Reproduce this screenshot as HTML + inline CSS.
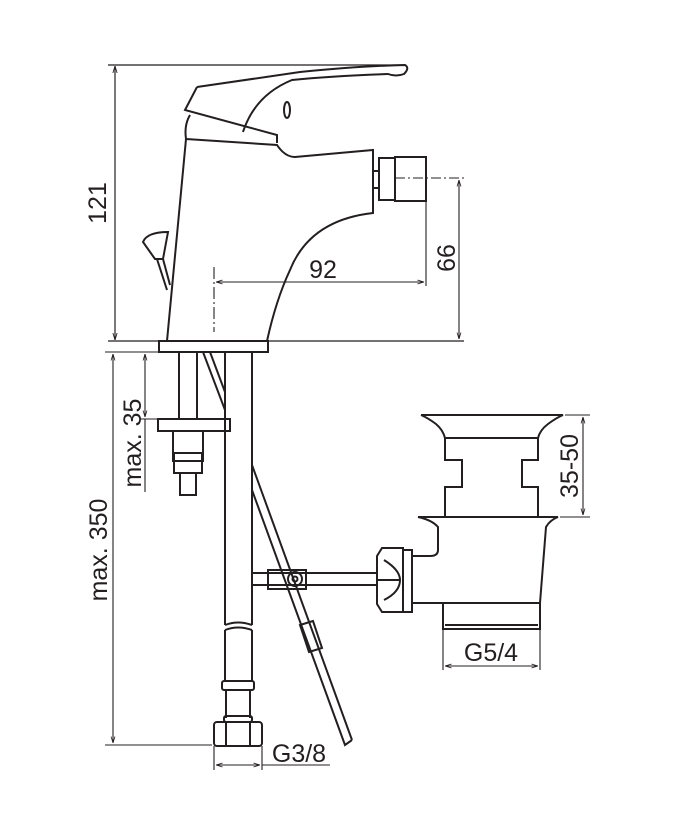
<!DOCTYPE html>
<html><head><meta charset="utf-8"><style>
html,body{margin:0;padding:0;background:#fff}
svg{display:block}
text{font-family:"Liberation Sans",sans-serif;fill:#231f20}
</style></head><body>
<svg width="678" height="832" viewBox="0 0 678 832" xmlns="http://www.w3.org/2000/svg">
<defs>
<marker id="a" viewBox="0 0 10 10" refX="10" refY="5" markerWidth="6" markerHeight="6" orient="auto-start-reverse"><path d="M0,2 L10,5 L0,8" fill="none" stroke="#231f20" stroke-width="1.2"/></marker>
</defs>
<g fill="none" stroke="#231f20" stroke-width="1.2">
<line x1="108" y1="65" x2="405" y2="65"/>
<line x1="115" y1="66" x2="115" y2="340" marker-start="url(#a)" marker-end="url(#a)"/>
<line x1="108" y1="341" x2="464" y2="341"/>
</g>
<g fill="none" stroke="#231f20" stroke-width="2">
<path d="M197,87 L300,72 Q360,66 405,65 Q410,68 404,74 Q396,77 388,74 Q330,76 292,80 Q255,95 243,132"/>
<path d="M197,87 L185,110 L277,135 L277,143"/>
<ellipse cx="287" cy="110" rx="3" ry="8"/>
<path d="M190,115 Q184,125 186,139 L167,341"/>
<path d="M186,139 L277,145 Q285,157 295,157 L373,150 L373,213 Q310,220 290,270 Q276,300 267,341"/>
<rect x="373" y="171" width="6" height="17"/>
<rect x="379" y="158" width="16" height="42"/>
<rect x="395" y="157" width="31" height="44"/>
<rect x="159" y="341" width="109" height="11"/>
<path d="M143,242 Q147,232 168,232 L163,259 L155,259 Z"/>
<path d="M157,259 L167,290 M163,259 L170,285"/>
<line x1="179" y1="352" x2="179" y2="419"/>
<line x1="197" y1="352" x2="197" y2="419"/>
<rect x="158" y="419" width="72" height="12"/>
<rect x="173" y="431" width="30" height="30"/>
<rect x="174" y="453" width="28" height="20"/>
<rect x="180" y="473" width="16" height="22"/>
<line x1="225" y1="352" x2="225" y2="625"/>
<line x1="252" y1="352" x2="252" y2="625"/>
<path d="M225,625 Q238,620 252,625 M225,630 Q238,625 252,630"/>
<line x1="225" y1="630" x2="225" y2="681"/>
<line x1="252" y1="630" x2="252" y2="681"/>
<rect x="222" y="681" width="32" height="9" rx="2"/>
<line x1="226" y1="690" x2="226" y2="718"/>
<line x1="250" y1="690" x2="250" y2="718"/>
<rect x="224" y="716" width="28" height="6" rx="2"/>
<rect x="214" y="722" width="48" height="24" rx="3"/>
<line x1="226" y1="722" x2="226" y2="746"/>
<line x1="250" y1="722" x2="250" y2="746"/>
<path d="M203,352 L225,410 M210,352 L225,392"/>
<path d="M252,465 L352,740 M252,490 L345,745 L352,740"/>
<path d="M300,625 L313,621 L322,648 L309,652 Z"/>
<line x1="252" y1="573" x2="378" y2="573"/>
<line x1="252" y1="585" x2="378" y2="585"/>
<rect x="268" y="570" width="38" height="19"/>
<circle cx="295" cy="579" r="7"/>
<circle cx="295" cy="579" r="2.5"/>
<path d="M382,548 L403,548 L403,612 L382,612 L377,604 L377,556 Z"/>
<rect x="403" y="550" width="9" height="62"/>
<path d="M377,580 L400,580 M384,560 Q400,570 400,580 Q400,592 384,600"/>
<path d="M421,415 L563,415 Q556,418 548,424 Q540,430 538,438 L445,438 Q443,430 436,424 Q428,418 421,415"/>
<path d="M445,438 L445,460 L462,460 L462,487 L445,487 L445,517"/>
<path d="M538,438 L538,460 L522,460 L522,487 L538,487 L538,517"/>
<path d="M418,517 L558,517 Q550,520 546,527 L540,603 L412,603"/>
<path d="M418,517 Q432,520 438,527 L438,550 Q438,556 430,556 L412,556"/>
<rect x="443" y="603" width="97" height="26"/>
<line x1="445" y1="625" x2="538" y2="625"/>
</g>
<g fill="none" stroke="#231f20" stroke-width="1.1">
<path d="M395,178 L464,178" stroke-dasharray="10,3,2,3"/>
<path d="M214,267 L214,332" stroke-dasharray="12,3,2,3"/>
<line x1="459" y1="180" x2="459" y2="339" marker-start="url(#a)" marker-end="url(#a)"/>
<line x1="426" y1="201" x2="426" y2="286"/>
<line x1="216" y1="282" x2="424" y2="282" marker-start="url(#a)" marker-end="url(#a)"/>
<line x1="105" y1="352" x2="158" y2="352"/>
<line x1="113" y1="354" x2="113" y2="743" marker-start="url(#a)" marker-end="url(#a)"/>
<line x1="105" y1="745" x2="212" y2="745"/>
<line x1="145" y1="354" x2="145" y2="417" marker-start="url(#a)" marker-end="url(#a)"/>
<line x1="140" y1="419" x2="158" y2="419"/>
<line x1="145" y1="419" x2="145" y2="492"/>
<line x1="214" y1="746" x2="214" y2="770"/>
<line x1="262" y1="746" x2="262" y2="770"/>
<line x1="216" y1="765" x2="260" y2="765" marker-start="url(#a)" marker-end="url(#a)"/>
<line x1="262" y1="765" x2="330" y2="765"/>
<line x1="443" y1="629" x2="443" y2="670"/>
<line x1="540" y1="629" x2="540" y2="670"/>
<line x1="445" y1="666" x2="538" y2="666" marker-start="url(#a)" marker-end="url(#a)"/>
<line x1="565" y1="415" x2="590" y2="415"/>
<line x1="560" y1="517" x2="590" y2="517"/>
<line x1="583" y1="417" x2="583" y2="515" marker-start="url(#a)" marker-end="url(#a)"/>
</g>
<g font-size="25">
<text x="323" y="278" text-anchor="middle">92</text>
<text transform="translate(455,258) rotate(-90)" text-anchor="middle">66</text>
<text transform="translate(106,203) rotate(-90)" text-anchor="middle">121</text>
<text transform="translate(141,443) rotate(-90)" text-anchor="middle">max. 35</text>
<text transform="translate(107,550) rotate(-90)" text-anchor="middle">max. 350</text>
<text transform="translate(578,466) rotate(-90)" text-anchor="middle">35-50</text>
<text x="491" y="661" text-anchor="middle">G5/4</text>
<text x="299" y="762" text-anchor="middle">G3/8</text>
</g>
</svg>
</body></html>
